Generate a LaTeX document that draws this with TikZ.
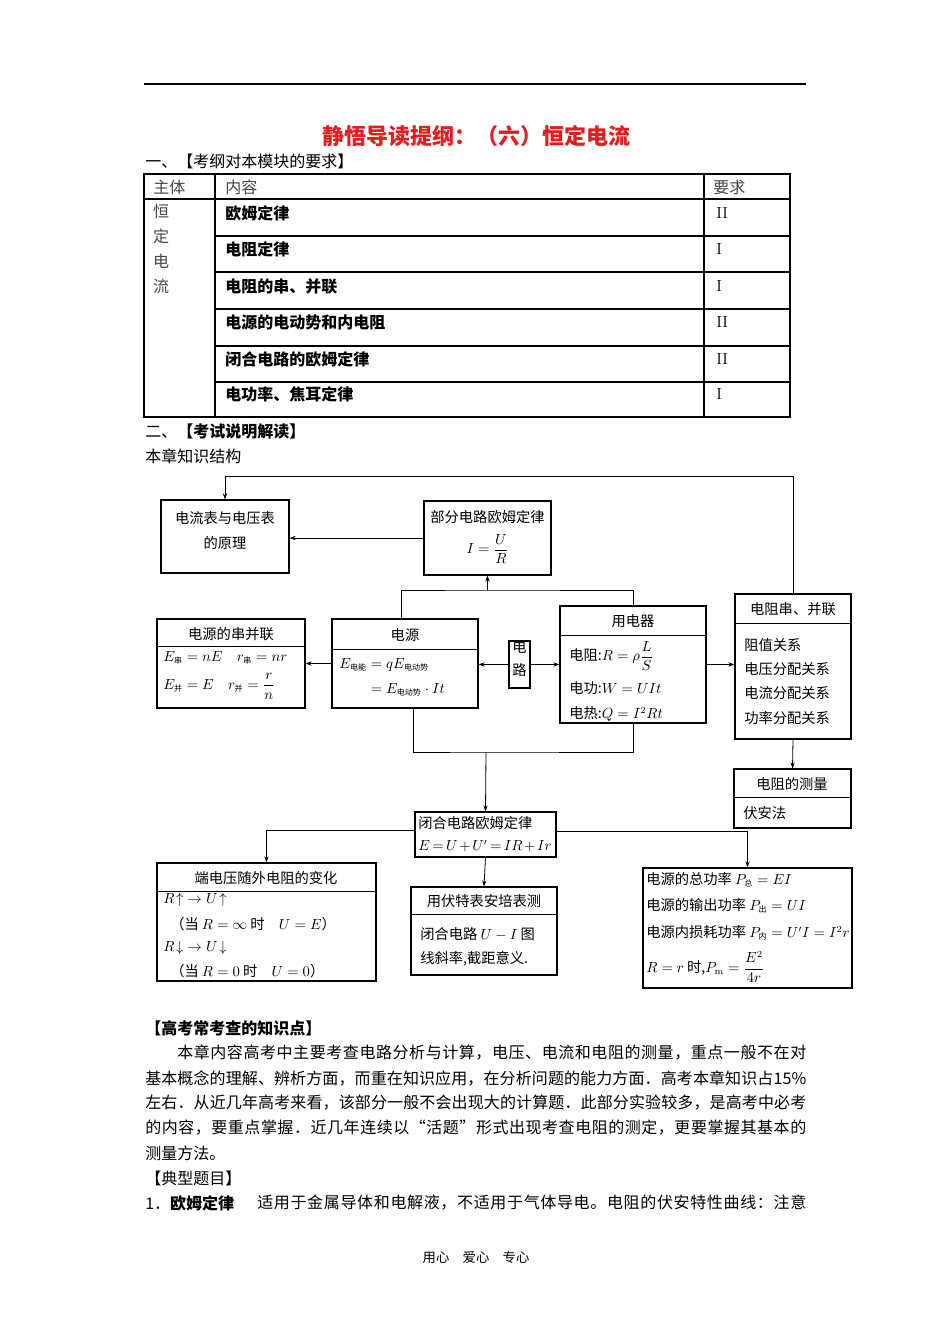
\documentclass[tikz,border=0pt]{standalone}
\usepackage[no-math]{fontspec}
\setmainfont{Noto Sans CJK SC}
\usepackage{amsmath}
\usetikzlibrary{arrows.meta,positioning,fit}
\definecolor{rougeTitre}{RGB}{226,30,30}
\definecolor{grisTexte}{RGB}{70,70,70}
% petits indices chinois dans les formules
\newcommand{\zs}[1]{\mbox{\fontsize{6}{7}\selectfont #1}}
% ligne justifiee caractere par caractere
\makeatletter
\newcommand{\ligneJust}[2]{\makebox[#1][s]{\lj@premier#2\relax}}
\def\lj@premier#1{#1\lj@suite}
\def\lj@suite#1{\ifx#1\relax\else\hskip 0pt plus 1fil#1\expandafter\lj@suite\fi}
\makeatother
\newcommand{\entete}[2]{\draw[line width=0.9pt] ([yshift=-#2]#1.north west) -- ([yshift=-#2]#1.north east);}

\begin{document}
\begin{tikzpicture}[x=0.75pt,y=-0.75pt,
  boite/.style={draw,line width=0.9pt,inner sep=0pt,font=\fontsize{10.7}{12.5}\selectfont},
  schema/.style={inner sep=0pt,font=\fontsize{10.7}{12.5}\selectfont},
  ligne/.style={schema,anchor=west},
  corps/.style={inner sep=0pt,anchor=west,font=\fontsize{12}{14}\selectfont},
  tableau/.style={line width=0.8pt},
  fleche/.style={-{Stealth[length=4.5pt,width=3.2pt]},line width=0.6pt},
  trait/.style={line width=0.6pt}]

  \useasboundingbox (0,0) rectangle (950,1344);
  \fill[white] (0,0) rectangle (950,1344);

  % en-tete de page
  \draw[line width=1pt] (144,84) -- (806,84);
  \node[inner sep=0pt,font=\fontsize{16.5}{18}\selectfont\bfseries,text=rougeTitre] (titre) at (476,136) {静悟导读提纲：（六）恒定电流};
  \node[corps] (partie1) at (145,161) {一、【考纲对本模块的要求】};

  % tableau des exigences
  \draw[tableau] (144,174) rectangle (790,417);
  \draw[tableau] (144,199) -- (790,199);
  \foreach \y in {236,272,309,346,382}
    \draw[tableau] (215,\y) -- (790,\y);
  \draw[tableau] (215,174) -- (215,417);
  \draw[tableau] (704,174) -- (704,417);
  \node[corps,text=grisTexte] (colSujet) at (153,187) {主体};
  \node[corps,text=grisTexte] (colContenu) at (225,187) {内容};
  \node[corps,text=grisTexte] (colNiveau) at (713,187) {要求};
  \node[inner sep=0pt,anchor=north,align=center,text=grisTexte,
        font=\fontsize{12}{18.75}\selectfont] (sujet) at (161,204) {恒\\定\\电\\流};
  \foreach \y/\contenu/\niveau [count=\i] in {213/欧姆定律/II,249/电阻定律/I,286/电阻的串、并联/I,
      322/电源的电动势和内电阻/II,359/闭合电路的欧姆定律/II,394/电功率、焦耳定律/I}{
    \node[corps,font=\fontsize{12}{14}\selectfont\bfseries] (contenu\i) at (225,\y) {\contenu};
    \node[corps,font=\fontsize{13}{14}\selectfont] (niveau\i) at (716,\y) {$\mathrm{\niveau}$};
  }

  \node[corps] (partie2) at (145,431) {二、\textbf{【考试说明解读】}};
  \node[corps] (structure) at (145,456) {本章知识结构};

  % schema : boites
  \node[boite,fit={(161,500) (289,573)},align=center] (ampere) {电流表与电压表\\[6pt]的原理};
  \node[boite,fit={(424,501) (551,575)}] (ohmPartiel) {};
  \node[schema] (ohmPartielTitre) at (487.5,517) {部分电路欧姆定律};
  \node[schema] (ohmPartielLoi) at (487.5,549) {$I=\dfrac{U}{R}$};

  \node[boite,fit={(157,619) (305,708)}] (srcAssoc) {};
  \entete{srcAssoc}{21pt}
  \node[schema] (srcAssocTitre) at (231,634) {电源的串并联};
  \node[ligne] (srcAssoc1) at (163,658) {$E_{\zs{串}} = nE\quad r_{\zs{串}} = nr$};
  \node[ligne] (srcAssoc2) at (163,686) {$E_{\zs{并}} = E\quad r_{\zs{并}} = \dfrac{r}{n}$};

  \node[boite,fit={(332,619) (478,708)}] (source) {};
  \entete{source}{23.25pt}
  \node[schema] (sourceTitre) at (405,635) {电源};
  \node[ligne] (source1) at (339,665) {$E_{\zs{电能}} = qE_{\zs{电动势}}$};
  \node[ligne] (source2) at (339,690) {$\phantom{E_{\zs{电能}}} = E_{\zs{电动势}}\cdot It$};

  \node[boite,fit={(509,641) (530,688)},align=center] (circuit) {电\\[5pt]路};

  \node[boite,fit={(560,606) (706,723)}] (recepteur) {};
  \entete{recepteur}{22.5pt}
  \node[schema] (recepteurTitre) at (633,621) {用电器};
  \node[ligne] (recepteur1) at (569,656) {电阻:$R=\rho\dfrac{L}{S}$};
  \node[ligne] (recepteur2) at (569,688) {电功:$W=UIt$};
  \node[ligne] (recepteur3) at (569,714) {电热:$Q=I^2Rt$};

  \node[boite,fit={(735,594) (851,739)}] (assocR) {};
  \entete{assocR}{22.5pt}
  \node[schema] (assocRTitre) at (793,609) {电阻串、并联};
  \node[ligne] (assocR1) at (744,645) {阻值关系};
  \node[ligne] (assocR2) at (744,669) {电压分配关系};
  \node[ligne] (assocR3) at (744,693) {电流分配关系};
  \node[ligne] (assocR4) at (744,718) {功率分配关系};

  \node[boite,fit={(734,769) (851,828)}] (mesureR) {};
  \entete{mesureR}{21.75pt}
  \node[schema] (mesureRTitre) at (792,784) {电阻的测量};
  \node[ligne] (mesureR1) at (743,813) {伏安法};

  \node[boite,fit={(415,812) (556,857)}] (ohmFerme) {};
  \node[ligne] (ohmFerme1) at (418,823) {闭合电路欧姆定律};
  \node[ligne] (ohmFerme2) at (418,846) {\medmuskip=2mu\thickmuskip=3mu$E = U + U' = IR + Ir$};

  \node[boite,fit={(157,863) (376,981)}] (tension) {};
  \entete{tension}{21.75pt}
  \node[schema] (tensionTitre) at (266,878) {端电压随外电阻的变化};
  \node[ligne] (tension1) at (163,900) {$R\!\uparrow\;\rightarrow U\!\uparrow$};
  \node[ligne] (tension2) at (170,924) {（当 $R = \infty$ 时\quad $U = E$）};
  \node[ligne] (tension3) at (163,948) {$R\!\downarrow\;\rightarrow U\!\downarrow$};
  \node[ligne] (tension4) at (170,971) {（当 $R = 0$ 时\quad $U = 0$）};

  \node[boite,fit={(411,887) (557,975)}] (voltAmp) {};
  \entete{voltAmp}{21pt}
  \node[schema] (voltAmpTitre) at (484,901) {用伏特表安培表测};
  \node[ligne] (voltAmp1) at (420,934) {闭合电路 $U-I$ 图};
  \node[ligne] (voltAmp2) at (420,959) {线斜率,截距意义.};

  \node[boite,fit={(643,868) (852,988)}] (puissance) {};
  \node[ligne] (puissance1) at (646,880) {电源的总功率 $P_{\zs{总}} = EI$};
  \node[ligne] (puissance2) at (646,906) {电源的输出功率 $P_{\zs{出}} = UI$};
  \node[ligne] (puissance3) at (646,933) {电源内损耗功率 $P_{\zs{内}} = U'I = I^2r$};
  \node[ligne] (puissance4) at (646,967) {$R = r$ 时,$P_{\mathrm{m}} = \dfrac{E^2}{4r}$};

  % schema : liaisons
  \coordinate (niveauHaut) at (0,476);
  \coordinate (jonctionHaut) at (487.5,590);
  \coordinate (jonctionBas) at (486,752);
  \draw[fleche] (assocR.north) |- (niveauHaut -| ampere.north) -- (ampere.north);
  \draw[fleche] (ohmPartiel.west) -- (ohmPartiel.west -| ampere.east);
  \draw[trait] ([xshift=-3pt]source.north) |- (jonctionHaut) -| (recepteur.north);
  \draw[fleche] (jonctionHaut) -- (ohmPartiel.south);
  \draw[fleche] (source.west) -- (source.west -| srcAssoc.east);
  \draw[fleche] (circuit.west) -- (circuit.west -| source.east);
  \draw[fleche] (circuit.east) -- (circuit.east -| recepteur.west);
  \draw[fleche] (recepteur.east) -- (recepteur.east -| assocR.west);
  \draw[fleche] (assocR.south) -- (mesureR.north);
  \draw[trait] ([xshift=6pt]source.south) |- (jonctionBas) -| (recepteur.south);
  \draw[fleche] (jonctionBas) -- (ohmFerme.north);
  \draw[fleche] ([yshift=3pt]ohmFerme.west) -| (tension.north);
  \draw[fleche] ([yshift=2pt]ohmFerme.east) -| (puissance.north);
  \draw[fleche] (ohmFerme.south) -- (voltAmp.north);

  % texte sous le schema
  \node[corps,font=\fontsize{12}{14}\selectfont\bfseries] (pointsCles) at (145,1028) {【高考常考查的知识点】};
  \node[corps] (par1) at (177,1053) {\ligneJust{471.75pt}{本章内容高考中主要考查电路分析与计算，电压、电流和电阻的测量，重点一般不在对}};
  \node[corps] (par2) at (145,1078) {\ligneJust{495.75pt}{基本概念的理解、辨析方面，而重在知识应用，在分析问题的能力方面．高考本章知识占15\%}};
  \node[corps] (par3) at (145,1103) {\ligneJust{495.75pt}{左右．从近几年高考来看，该部分一般不会出现大的计算题．此部分实验较多，是高考中必考}};
  \node[corps] (par4) at (145,1128) {\ligneJust{495.75pt}{的内容，要重点掌握．近几年连续以“活题”形式出现考查电阻的测定，更要掌握其基本的}};
  \node[corps] (par5) at (145,1153) {测量方法。};
  \node[corps] (typiques) at (145,1178) {【典型题目】};
  \node[corps] (exemple1) at (145,1203) {1．\textbf{欧姆定律}};
  \node[corps] (exemple1suite) at (257,1203) {\ligneJust{411.75pt}{适用于金属导体和电解液，不适用于气体导电。电阻的伏安特性曲线：注意}};

  \node[inner sep=0pt,font=\fontsize{10}{12}\selectfont] (piedPage) at (476,1257) {用心　爱心　专心};
\end{tikzpicture}
\end{document}
